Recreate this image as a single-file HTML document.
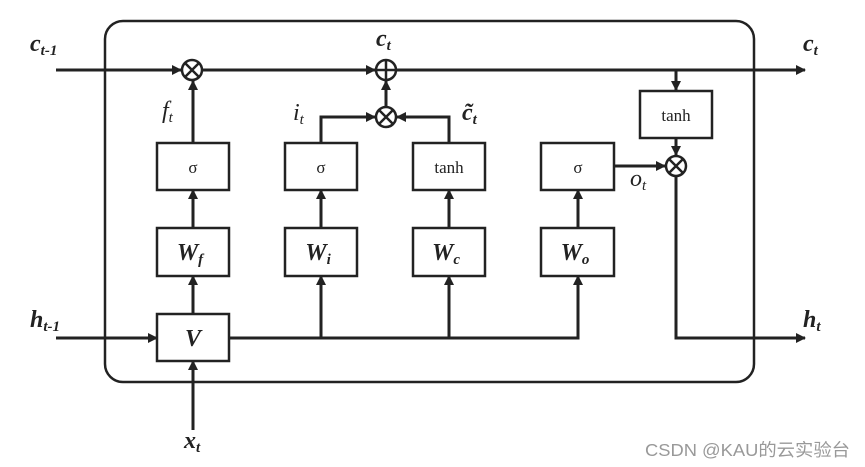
<!DOCTYPE html>
<html><head><meta charset="utf-8"><style>
html,body{margin:0;padding:0;background:#fff;width:865px;height:467px;overflow:hidden}
svg{display:block}
.l{stroke:#222;stroke-width:3;fill:none}
.b{stroke:#222;stroke-width:2.5;fill:#fff}
.t{font-family:"Liberation Serif",serif;fill:#222}
.i{font-family:"Liberation Serif",serif;font-style:italic;font-weight:bold;fill:#222}
</style></head><body>
<svg width="865" height="467" viewBox="0 0 865 467">
<defs><marker id="a" markerWidth="10" markerHeight="10" refX="9" refY="5" orient="auto" markerUnits="userSpaceOnUse"><path d="M0,0 L10,5 L0,10 z" fill="#222"/></marker></defs>
<rect x="105" y="21" width="649" height="361" rx="18" fill="none" stroke="#222" stroke-width="2.5"/>
<line class="l" x1="56" y1="70" x2="181" y2="70" marker-end="url(#a)"/>
<line class="l" x1="202" y1="70" x2="375" y2="70" marker-end="url(#a)"/>
<line class="l" x1="396" y1="70" x2="805" y2="70" marker-end="url(#a)"/>
<line class="l" x1="676" y1="70" x2="676" y2="90" marker-end="url(#a)"/>
<line class="l" x1="676" y1="138" x2="676" y2="155" marker-end="url(#a)"/>
<line class="l" x1="614" y1="166" x2="665" y2="166" marker-end="url(#a)"/>
<polyline class="l" points="676,177 676,338 805,338" marker-end="url(#a)"/>
<line class="l" x1="193" y1="143" x2="193" y2="81" marker-end="url(#a)"/>
<polyline class="l" points="321,143 321,117 375,117" marker-end="url(#a)"/>
<polyline class="l" points="449,143 449,117 397,117" marker-end="url(#a)"/>
<line class="l" x1="386" y1="106" x2="386" y2="81" marker-end="url(#a)"/>
<line class="l" x1="193" y1="228" x2="193" y2="190" marker-end="url(#a)"/>
<line class="l" x1="321" y1="228" x2="321" y2="190" marker-end="url(#a)"/>
<line class="l" x1="449" y1="228" x2="449" y2="190" marker-end="url(#a)"/>
<line class="l" x1="578" y1="228" x2="578" y2="190" marker-end="url(#a)"/>
<line class="l" x1="193" y1="314" x2="193" y2="276" marker-end="url(#a)"/>
<line class="l" x1="56" y1="338" x2="157" y2="338" marker-end="url(#a)"/>
<polyline class="l" points="229,338 578,338 578,276" marker-end="url(#a)"/>
<line class="l" x1="321" y1="338" x2="321" y2="276" marker-end="url(#a)"/>
<line class="l" x1="449" y1="338" x2="449" y2="276" marker-end="url(#a)"/>
<line class="l" x1="193" y1="430" x2="193" y2="361" marker-end="url(#a)"/>
<g stroke="#222" stroke-width="2.5" fill="#fff">
<circle cx="192" cy="70" r="10"/><path d="M185,63 L199,77 M199,63 L185,77"/>
<circle cx="386" cy="70" r="10"/><path d="M376,70 L396,70 M386,60 L386,80"/>
<circle cx="386" cy="117" r="10"/><path d="M379,110 L393,124 M393,110 L379,124"/>
<circle cx="676" cy="166" r="10"/><path d="M669,159 L683,173 M683,159 L669,173"/>
</g>
<rect class="b" x="157" y="143" width="72" height="47"/>
<rect class="b" x="285" y="143" width="72" height="47"/>
<rect class="b" x="413" y="143" width="72" height="47"/>
<rect class="b" x="541" y="143" width="73" height="47"/>
<rect class="b" x="640" y="91" width="72" height="47"/>
<rect class="b" x="157" y="228" width="72" height="48"/>
<rect class="b" x="285" y="228" width="72" height="48"/>
<rect class="b" x="413" y="228" width="72" height="48"/>
<rect class="b" x="541" y="228" width="73" height="48"/>
<rect class="b" x="157" y="314" width="72" height="47"/>
<g class="t" font-size="17" text-anchor="middle">
<text x="193" y="173">σ</text><text x="321" y="173">σ</text><text x="449" y="173">tanh</text>
<text x="578" y="173">σ</text><text x="676" y="121">tanh</text>
</g>
<g class="i" font-size="24" text-anchor="middle">
<text x="190" y="260">W<tspan font-size="15" dy="4">f</tspan></text>
<text x="318" y="260">W<tspan font-size="15" dy="4">i</tspan></text>
<text x="446" y="260">W<tspan font-size="15" dy="4">c</tspan></text>
<text x="575" y="260">W<tspan font-size="15" dy="4">o</tspan></text>
<text x="193" y="346">V</text>
</g>
<g class="i" font-size="24">
<text x="30" y="51">c<tspan font-size="15" dy="4">t-1</tspan></text>
<text x="376" y="46">c<tspan font-size="15" dy="4">t</tspan></text>
<text x="803" y="51">c<tspan font-size="15" dy="4">t</tspan></text>
<text x="30" y="327">h<tspan font-size="15" dy="4">t-1</tspan></text>
<text x="803" y="327">h<tspan font-size="15" dy="4">t</tspan></text>
<text x="184" y="448">x<tspan font-size="15" dy="4">t</tspan></text>
</g>
<g class="t" font-style="italic" font-size="24">
<text x="162" y="118">f<tspan font-size="15" dy="4">t</tspan></text>
<text x="293" y="120">i<tspan font-size="15" dy="4">t</tspan></text>
<text x="462" y="120" font-weight="bold">c̃<tspan font-size="15" dy="4">t</tspan></text>
<text x="630" y="186">o<tspan font-size="15" dy="4">t</tspan></text>
</g>
<text x="645" y="456" font-family="'Liberation Sans','Noto Sans CJK SC',sans-serif" font-size="17.5" fill="#999" textLength="205" lengthAdjust="spacingAndGlyphs">CSDN @KAU的云实验台</text>
</svg>
</body></html>
